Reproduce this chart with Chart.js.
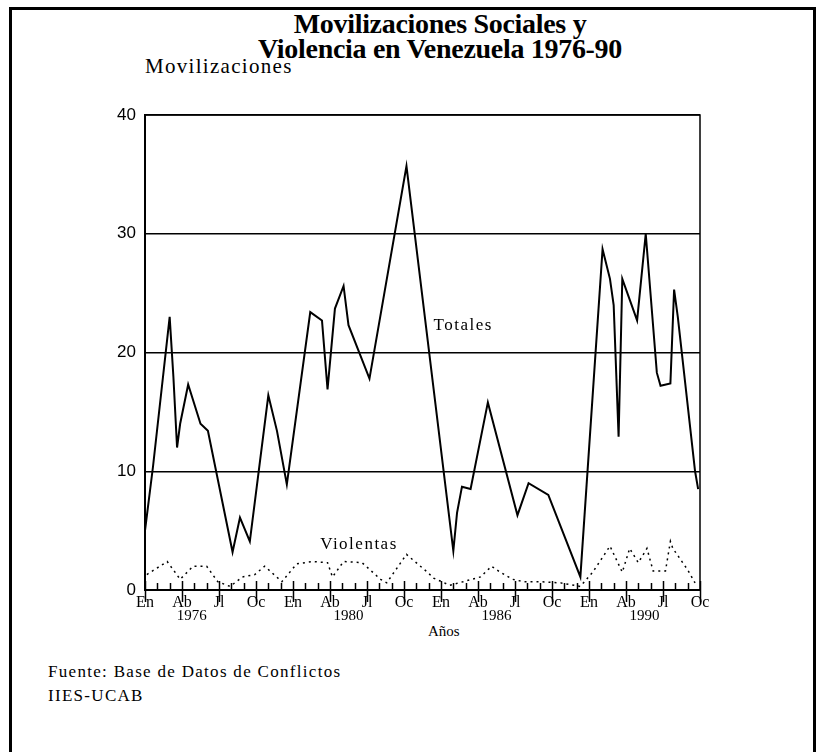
<!DOCTYPE html>
<html>
<head>
<meta charset="utf-8">
<script src="https://cdn.jsdelivr.net/npm/chart.js@4/dist/chart.umd.min.js"></script>
<style>
body { margin: 0; background: #fff; }
#wrap { position: relative; width: 827px; height: 752px; overflow: hidden; background: #fff; }
#frame { position: absolute; left: 9px; top: 7px; width: 801px; height: 780px; border: 3px solid #000; }
.t { position: absolute; font-family: "Liberation Serif", serif; color: #000; white-space: nowrap; }
</style>
</head>
<body>
<div id="wrap">
  <div id="frame"></div>
  <div class="t" style="left:0;width:880px;text-align:center;top:11px;font-size:28px;font-weight:bold;line-height:25px;letter-spacing:-0.3px;">Movilizaciones Sociales y<br>Violencia en Venezuela 1976-90</div>
  <div class="t" style="left:145px;top:54px;font-size:21px;letter-spacing:1.3px;">Movilizaciones</div>
  <div class="t" style="left:428px;top:623px;font-size:15px;">Años</div>
  <div class="t" style="left:48px;top:662px;font-size:17px;letter-spacing:1.3px;">Fuente: Base de Datos de Conflictos</div>
  <div class="t" style="left:48px;top:686px;font-size:17px;letter-spacing:1.3px;">IIES-UCAB</div>
  <canvas id="c" width="827" height="752" style="position:absolute;left:0;top:0;"></canvas>
</div>
<script>
// month index 0 = En of first year shown, 45 = Oc of last
var monthTicks = [0, 3, 6, 9, 12, 15, 18, 21, 24, 27, 30, 33, 36, 39, 42, 45];
var monthLabels = ["En", "Ab", "Jl", "Oc", "En", "Ab", "Jl", "Oc", "En", "Ab", "Jl", "Oc", "En", "Ab", "Jl", "Oc"];
var yearPos = [3.8, 16.5, 28.5, 40.5];
var yearLabels = ["1976", "1980", "1986", "1990"];

var totalX = [0, 0.65, 2.0, 2.3, 2.6, 2.85, 3.5, 4.5, 5.1, 7.1, 7.7, 8.5, 10.0, 10.7, 11.5,
  13.4, 14.35, 14.8, 15.4, 16.1, 16.5, 18.2, 21.2, 25.0, 25.3, 25.7, 26.4, 27.8, 30.2, 31.1,
  32.7, 35.3, 37.1, 37.7, 38.0, 38.4, 38.7, 39.9, 40.6, 41.5, 41.8, 42.6, 42.9, 43.2, 44.6, 44.85];
var totalY = [5, 10.4, 23, 18, 12, 14, 17.3, 14, 13.4, 3.2, 6.1, 4.1, 16.4, 13.4, 8.9,
  23.4, 22.7, 16.9, 23.7, 25.6, 22.3, 17.8, 35.7, 3.3, 6.5, 8.7, 8.5, 15.8, 6.3, 9,
  8, 1.1, 28.7, 26.2, 24, 12.9, 26.2, 22.7, 30, 18.3, 17.2, 17.4, 25.3, 23, 10, 8.5];

var violX = [0.15, 1.8, 2.85, 3.9, 5, 5.9, 6.9, 7.9, 8.9, 9.7, 11.1, 12.3, 13.6, 14.8, 15.2,
  16.1, 17.6, 19.1, 19.6, 21.2, 22.9, 23.4, 24.7, 25.8, 27.2, 28.1, 28.8, 29.8, 30.7, 32,
  33.7, 35.3, 36.3, 37.7, 38.7, 39.3, 40, 40.7, 41.2, 42.2, 42.6, 42.8, 44, 44.6];
var violY = [1.3, 2.4, 0.9, 2, 2, 0.7, 0.3, 1.1, 1.3, 2, 0.7, 2.2, 2.4, 2.3, 1.1,
  2.4, 2.3, 0.9, 0.6, 3, 1.5, 1, 0.4, 0.7, 1.1, 2, 1.5, 0.9, 0.7, 0.7,
  0.6, 0.3, 1.5, 3.7, 1.5, 3.5, 2.3, 3.5, 1.6, 1.6, 4.1, 3.5, 1.7, 0.6];

function pts(xs, ys) {
    return xs.map(function (x, i) { return { x: x, y: ys[i] }; });
}

var serif = "'Liberation Serif', serif";

var decor = {
    id: "decor",
    afterDraw: function (chart) {
        var ctx = chart.ctx;
        var a = chart.chartArea;
        var xs = chart.scales.x;
        var ys = chart.scales.y;
        ctx.save();
        ctx.strokeStyle = "#000";
        ctx.lineWidth = 1.5;
        ctx.strokeRect(a.left, a.top, a.right - a.left, a.bottom - a.top);
        // month ticks, longer at every quarter
        for (var m = 0; m <= 45; m++) {
            var px = Math.round(xs.getPixelForValue(m)) + 0.5;
            ctx.beginPath();
            if (m % 3 === 0) {
                ctx.moveTo(px, a.bottom - 9);
                ctx.lineTo(px, a.bottom + 12);
            } else {
                ctx.moveTo(px, a.bottom - 7);
                ctx.lineTo(px, a.bottom);
            }
            ctx.stroke();
        }
        ctx.fillStyle = "#000";
        ctx.font = "17px " + serif;
        ctx.letterSpacing = "1.5px";
        ctx.textBaseline = "middle";
        ctx.fillText("Totales", xs.getPixelForValue(23.4), ys.getPixelForValue(22.3));
        ctx.fillText("Violentas", xs.getPixelForValue(14.2), ys.getPixelForValue(3.8));
        ctx.restore();
    }
};

new Chart("c", {
    type: "line",
    data: {
        datasets: [{
            label: "Totales",
            data: pts(totalX, totalY),
            borderColor: "#000",
            borderWidth: 2,
            pointRadius: 0,
            tension: 0
        }, {
            label: "Violentas",
            data: pts(violX, violY),
            borderColor: "#000",
            borderWidth: 1.5,
            borderDash: [2, 4],
            pointRadius: 0,
            tension: 0
        }]
    },
    options: {
        responsive: false,
        animation: false,
        layout: { padding: { left: 105, top: 115, right: 127, bottom: 126 } },
        plugins: { legend: { display: false }, tooltip: { enabled: false } },
        scales: {
            x: {
                type: "linear", min: 0, max: 45,
                afterBuildTicks: function (s) { s.ticks = monthTicks.map(function (v) { return { value: v }; }); },
                ticks: {
                    callback: function (v, i) { return monthLabels[i]; },
                    autoSkip: false, maxRotation: 0, padding: 3,
                    color: "#000", font: { family: serif, size: 16 }
                },
                grid: { display: false, drawTicks: false },
                border: { color: "#000", width: 2 },
                afterFit: function (s) { s.height = 17; }
            },
            yr: {
                type: "linear", position: "bottom", min: 0, max: 45,
                afterBuildTicks: function (s) { s.ticks = yearPos.map(function (v) { return { value: v }; }); },
                ticks: {
                    callback: function (v, i) { return yearLabels[i]; },
                    autoSkip: false, maxRotation: 0, padding: 0,
                    color: "#000", font: { family: serif, size: 15 }
                },
                grid: { display: false, drawTicks: false },
                border: { display: false },
                afterFit: function (s) { s.height = 19; }
            },
            y: {
                min: 0, max: 40,
                ticks: { stepSize: 10, padding: 9, color: "#000", font: { family: "'Liberation Sans', Arial, sans-serif", size: 17 } },
                grid: { color: "#000", lineWidth: 1.5, drawTicks: false },
                border: { color: "#000", width: 2 },
                afterFit: function (s) { s.width = 40; }
            }
        }
    },
    plugins: [decor]
});
</script>
</body>
</html>
